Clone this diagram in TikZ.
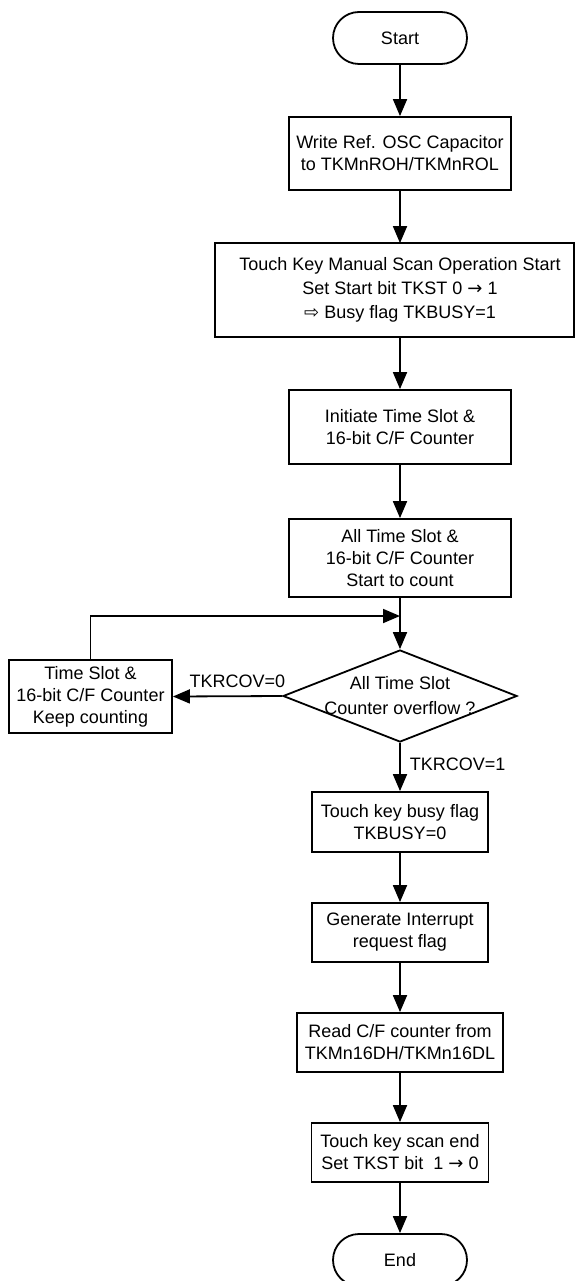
\documentclass[tikz,border=0pt]{standalone}
\usepackage{fontspec}
\setmainfont{Liberation Sans}
\newfontfamily\symfont{DejaVu Sans}
\usetikzlibrary{arrows.meta,shapes.geometric}
\begin{document}
\begin{tikzpicture}[x=1pt, y=-1pt, line width=1.8pt,
  every node/.style={font=\fontsize{18}{22}\selectfont, align=center, inner sep=0pt},
  box/.style args={#1/#2}{draw, rectangle, minimum width=#1pt, minimum height=#2pt},
  term/.style={box=134/52, rounded corners=26pt},
  decision/.style={draw, diamond, minimum width=234pt, minimum height=92pt},
  arr/.style={-{Triangle[width=14pt,length=17pt]}}]
  \useasboundingbox (0,0) rectangle (574,1281);
  % touch key manual scan flow
  \node[term] (start) at (400,38) {Start};
  \node[box=222/73] (b1) at (400,153.5) {Write Ref. OSC Capacitor\\to TKMnROH/TKMnROL};
  \node[box=368/92, draw=none, font=\fontsize{18}{24}\selectfont] (b2) at (400,290)
    {Touch Key Manual Scan Operation Start\\Set Start bit TKST 0 {\symfont →} 1\\{\symfont ⇨} Busy flag TKBUSY=1};
  \draw (b2.north west) rectangle ([xshift=-11pt]b2.south east);
  \node[box=222/74] (b3) at (400,427) {Initiate Time Slot \&\\16-bit C/F Counter};
  \node[box=222/78] (b4) at (400,558) {All Time Slot \&\\16-bit C/F Counter\\Start to count};
  \node[decision, label={[font=\fontsize{18}{25}\selectfont]center:All Time Slot\\Counter overflow ?}] (dia) at (400,696) {};
  \node[box=163/73] (keep) at (90.5,696.5) {Time Slot \&\\16-bit C/F Counter\\Keep counting};
  \coordinate (join) at (400,616);
  \node[box=176/60] (busy) at (400,822) {Touch key busy flag\\TKBUSY=0};
  \node[box=176/59] (gen) at (400,932.5) {Generate Interrupt\\request flag};
  \node[box=206/59] (read) at (400,1042.5) {Read C/F counter from\\TKMn16DH/TKMn16DL};
  \node[box=177/59] (done) at (400,1152.5) {Touch key scan end\\Set TKST bit\ \ 1 {\symfont →} 0};
  \node[term] (stop) at (400,1260) {End};
  \foreach \a/\b in {start/b1, b1/b2, b2/b3, b3/b4, b4/dia, busy/gen, gen/read, read/done, done/stop}
    \draw[arr] (\a) -- (\b);
  \draw[arr] (dia.west) -- (keep.east) node[pos=0.41, above=8pt] {TKRCOV=0};
  \draw[arr] (keep.north) |- (join);
  \draw[arr] (dia.south) -- (busy.north) node[pos=0.45, right=9pt] {TKRCOV=1};
\end{tikzpicture}
\end{document}
